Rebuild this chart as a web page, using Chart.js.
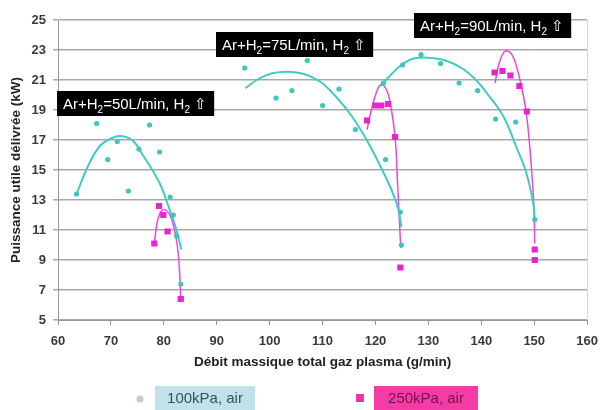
<!DOCTYPE html>
<html>
<head>
<meta charset="utf-8">
<title>Puissance utile</title>
<script src="https://cdn.jsdelivr.net/npm/chart.js@4/dist/chart.umd.min.js"></script>
<style>
  html, body { margin: 0; padding: 0; background: #fff; }
  #wrap { width: 607px; height: 410px; }
</style>
</head>
<body>
<div id="wrap"><canvas id="powerChart" width="607" height="410"></canvas></div>
<script>
// series names
const label100 = '100kPa, air';
const label250 = '250kPa, air';

// axis ticks
const flowTicks = [60, 70, 80, 90, 100, 110, 120, 130, 140, 150, 160];
const powerTicks = [5, 7, 9, 11, 13, 15, 17, 19, 21, 23, 25];

// measured points at 100 kPa (g/min, kW)
const flow100 = [63.5, 67.3, 69.4, 71.2, 73.3, 75.3, 77.3, 79.2, 81.2, 81.8, 82.4, 83.2,
                 95.3, 101.2, 104.2, 107.1, 110.0, 113.1, 116.2, 121.9, 124.7, 124.9,
                 121.5, 125.1, 128.6, 132.3, 135.8, 139.3, 142.7, 146.5, 150.1];
const power100 = [13.4, 18.1, 15.7, 16.9, 13.6, 16.4, 18.0, 16.2, 13.2, 12.0, 10.6, 7.4,
                  21.8, 19.8, 20.3, 22.3, 19.3, 20.4, 17.7, 15.7, 12.2, 10.0,
                  20.8, 22.0, 22.7, 22.1, 20.8, 20.3, 18.4, 18.2, 11.7];

// measured points at 250 kPa
const flow250 = [78.2, 79.1, 79.9, 80.7, 83.2,
                 118.4, 120.0, 121.1, 122.4, 123.7, 124.7,
                 142.5, 144.0, 145.5, 147.2, 148.6, 150.1, 150.1];
const power250 = [10.1, 12.6, 12.0, 10.9, 6.4,
                  18.3, 19.3, 19.3, 19.4, 17.2, 8.5,
                  21.5, 21.6, 21.3, 20.6, 18.9, 9.7, 9.0];

// trend curves, one per gas flow
const trend100a = [[63.5, 13.4], [65.6, 15.2], [67.8, 16.55], [70.0, 17.1], [72.2, 17.25], [74.3, 16.9],
                   [76.2, 15.9], [78.0, 14.9], [79.5, 13.9], [80.9, 12.55], [82.4, 11.0], [83.3, 9.7]];
const trend100b = [[95.4, 20.45], [98.0, 21.1], [100.5, 21.45], [103.5, 21.55], [106.5, 21.4], [109.5, 20.9],
                   [112.5, 19.9], [115.5, 18.6], [118.5, 16.9], [121.0, 15.2], [123.0, 13.7], [124.3, 12.4], [124.9, 11.2]];
const trend100c = [[121.0, 20.6], [122.5, 21.2], [124.9, 22.0], [127.4, 22.45], [131.1, 22.45], [134.0, 22.2],
                   [136.7, 21.7], [139.0, 21.0], [141.1, 20.1], [144.2, 18.55], [146.6, 16.55], [148.5, 14.8],
                   [149.8, 12.8], [150.1, 11.7]];
const trend250a = [[78.2, 10.1], [78.8, 11.6], [79.6, 12.3], [80.5, 12.3], [81.4, 11.8], [82.4, 10.3],
                   [82.9, 8.6], [83.2, 6.4]];
const trend250b = [[118.4, 17.7], [119.2, 19.0], [120.3, 20.3], [121.1, 20.7], [122.0, 20.4], [122.75, 19.55],
                   [123.7, 17.2], [124.2, 13.9], [124.7, 10.3], [124.8, 9.8]];
const trend250c = [[142.6, 20.8], [143.2, 21.9], [144.0, 22.7], [144.8, 22.95], [146.0, 22.55], [147.3, 21.0],
                   [148.5, 18.8], [149.4, 15.45], [149.9, 12.8], [150.1, 10.1]];

// gas flow labels for the black boxes
const noteFlows = ['50', '75', '90'];

const cyan = '#3ec6b8';
const cyanLine = '#41cbc4';
const magenta = '#ea22cf';
const magentaLine = '#f044e0';

function toPoints(xs, ys) {
    return xs.map((x, i) => ({ x: x, y: ys[i] }));
}

function trendSet(pairs, color, width) {
    return {
        data: pairs.map(p => ({ x: p[0], y: p[1] })),
        showLine: true,
        borderColor: color,
        borderWidth: width,
        pointRadius: 0,
        tension: 0.4,
        fill: false,
        order: 2
    };
}

// box anchors in data units (left, top)
const noteAnchors = [[59.8, 20.3], [89.8, 24.2], [127.2, 25.45]];

function drawNote(ctx, left, top, flow) {
    const parts = [['Ar+H', 0], ['2', 1], ['=' + flow + 'L/min, H', 0], ['2', 1], [' \u21e7', 0]];
    const big = '15px "Liberation Sans", Arial, sans-serif';
    const small = '10px "Liberation Sans", Arial, sans-serif';
    let w = 0;
    parts.forEach(p => {
        ctx.font = p[1] ? small : big;
        w += ctx.measureText(p[0]).width;
    });
    const boxW = w + 13;
    const boxH = 25;
    ctx.fillStyle = '#000';
    ctx.fillRect(left, top, boxW, boxH);
    ctx.fillStyle = '#fff';
    ctx.textBaseline = 'alphabetic';
    ctx.textAlign = 'left';
    let x = left + 6;
    const base = top + 18;
    parts.forEach(p => {
        ctx.font = p[1] ? small : big;
        ctx.fillText(p[0], x, p[1] ? base + 4 : base);
        x += ctx.measureText(p[0]).width;
    });
}

const extras = {
    id: 'extras',
    afterDatasetsDraw(chart) {
        const ctx = chart.ctx;
        const xs = chart.scales.x;
        const ys = chart.scales.y;
        const area = chart.chartArea;
        ctx.save();
        // right border of plot area
        ctx.strokeStyle = '#d4d4d4';
        ctx.lineWidth = 1;
        ctx.beginPath();
        ctx.moveTo(area.right + 0.5, area.top);
        ctx.lineTo(area.right + 0.5, area.bottom);
        ctx.stroke();

        noteAnchors.forEach((a, i) => {
            drawNote(ctx, Math.round(xs.getPixelForValue(a[0])), Math.round(ys.getPixelForValue(a[1])), noteFlows[i]);
        });
        ctx.restore();
    },
    afterDraw(chart) {
        const ctx = chart.ctx;
        ctx.save();
        ctx.font = '15px "Liberation Sans", Arial, sans-serif';
        ctx.textBaseline = 'middle';
        ctx.textAlign = 'center';

        // 100 kPa legend item
        ctx.fillStyle = '#c3cccc';
        ctx.beginPath();
        ctx.arc(140, 399, 3.5, 0, Math.PI * 2);
        ctx.fill();
        ctx.fillStyle = '#bfe3e9';
        ctx.fillRect(155, 386, 100, 24);
        ctx.fillStyle = '#34525e';
        ctx.fillText(label100, 205, 399);

        // 250 kPa legend item
        ctx.fillStyle = '#e8389f';
        ctx.fillRect(356, 394, 8, 8);
        ctx.fillStyle = '#f53ba6';
        ctx.fillRect(374, 386, 104, 24);
        ctx.fillStyle = '#7c0f4a';
        ctx.fillText(label250, 426, 399);
        ctx.restore();
    }
};

const tickFont = { family: '"Liberation Sans", Arial, sans-serif', size: 13, weight: 'bold' };
const titleFont = { family: '"Liberation Sans", Arial, sans-serif', size: 13.5, weight: 'bold' };

new Chart(document.getElementById('powerChart'), {
    type: 'scatter',
    data: {
        datasets: [
            {
                label: label100,
                data: toPoints(flow100, power100),
                pointStyle: 'circle',
                pointRadius: 2.6,
                backgroundColor: cyan,
                borderWidth: 0,
                order: 1
            },
            {
                label: label250,
                data: toPoints(flow250, power250),
                pointStyle: 'rect',
                pointRadius: 4.4,
                backgroundColor: magenta,
                borderWidth: 0,
                order: 0
            },
            trendSet(trend100a, cyanLine, 2),
            trendSet(trend100b, cyanLine, 2),
            trendSet(trend100c, cyanLine, 2),
            trendSet(trend250a, magentaLine, 1.5),
            trendSet(trend250b, magentaLine, 1.5),
            trendSet(trend250c, magentaLine, 1.5)
        ]
    },
    options: {
        responsive: false,
        animation: false,
        layout: { padding: { top: 20, right: 12, bottom: 40, left: 0 } },
        plugins: {
            legend: { display: false },
            tooltip: { enabled: false }
        },
        scales: {
            x: {
                type: 'linear',
                min: 60,
                max: 160,
                afterBuildTicks: scale => { scale.ticks = flowTicks.map(v => ({ value: v })); },
                afterFit: scale => { scale.height = 50; },
                grid: { drawOnChartArea: false, tickLength: 5, color: '#999' },
                border: { color: '#999' },
                ticks: { font: tickFont, color: '#3a3a3a', padding: 9, maxRotation: 0 },
                title: {
                    display: true,
                    text: 'Débit massique total gaz plasma (g/min)',
                    font: titleFont,
                    color: '#222',
                    padding: { top: 0, bottom: 0 }
                }
            },
            y: {
                type: 'linear',
                min: 5,
                max: 25,
                afterBuildTicks: scale => { scale.ticks = powerTicks.map(v => ({ value: v })); },
                afterFit: scale => { scale.width = 58; },
                grid: { color: '#a8a8a8', lineWidth: 1.5, tickLength: 5 },
                border: { color: '#999' },
                ticks: { font: tickFont, color: '#3a3a3a', padding: 7 },
                title: {
                    display: true,
                    text: 'Puissance utile délivrée (kW)',
                    font: titleFont,
                    color: '#222',
                    padding: { top: 8, bottom: 0 }
                }
            }
        }
    },
    plugins: [extras]
});
</script>
</body>
</html>
